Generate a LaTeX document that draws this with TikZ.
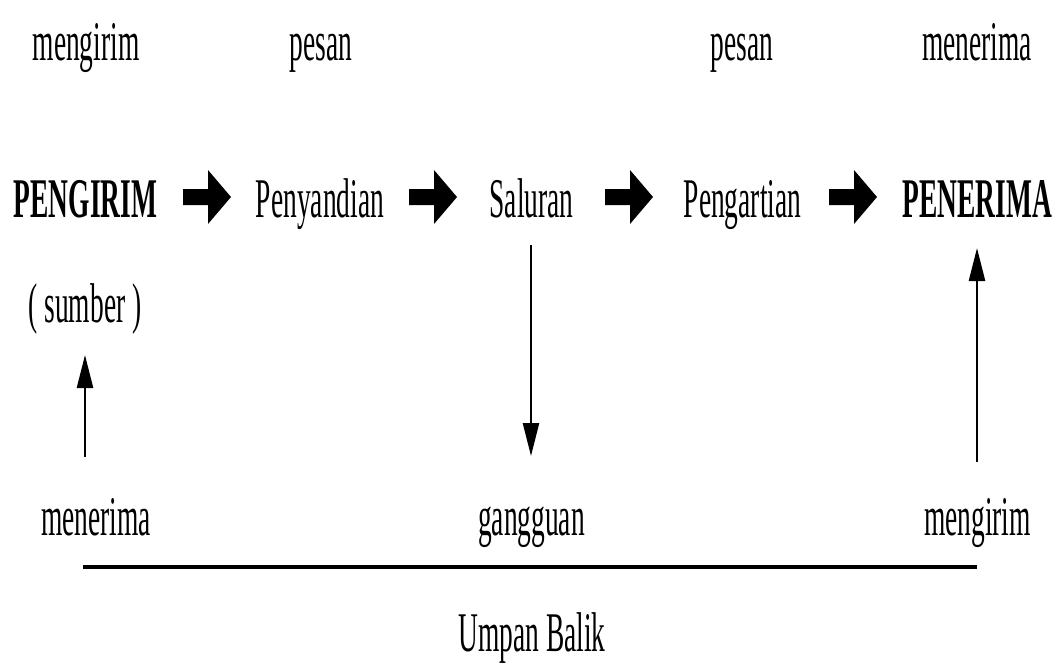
\documentclass[tikz,border=0pt]{standalone}
\usepackage{fontspec}
\setmainfont{Liberation Serif}[FakeStretch=0.49]
\usetikzlibrary{arrows.meta}

\tikzset{
  lbl/.style={anchor=base, inner sep=0pt, font=\fontsize{56}{60}\selectfont},
  key/.style={lbl, font=\fontsize{56}{60}\selectfont\bfseries},
  arr/.style={line width=2.5pt, -{Triangle[length=33pt,width=16pt]}},
  blockarrow/.pic={
    \fill (0,-8) -- (25,-8) -- (25,-27) -- (48,0) -- (25,27) -- (25,8) -- (0,8) -- cycle;
  }
}

\begin{document}
\begin{tikzpicture}[x=1pt, y=-1pt]
  \useasboundingbox (0,0) rectangle (1060,665);

  % top row
  \node[lbl] (kirimA) at (86,60)  {mengirim};
  \node[lbl] (pesanA) at (321,60) {pesan};
  \node[lbl] (pesanB) at (742,60) {pesan};
  \node[lbl] (terimaA) at (977,60) {menerima};

  % main chain
  \node[key] (pengirim)   at (85.5,217) {PENGIRIM};
  \node[lbl] (penyandian) at (320,217)  {Penyandian};
  \node[lbl] (saluran)    at (531.5,217){Saluran};
  \node[lbl] (pengartian) at (742.5,217){Pengartian};
  \node[key] (penerima)   at (977.5,217){PENERIMA};

  \pic at (183,197) {blockarrow};
  \pic at (409,197) {blockarrow};
  \pic at (605,197) {blockarrow};
  \pic at (829,197) {blockarrow};

  \node[lbl] (sumber) at (85,322) {( sumber )};

  % bottom row
  \node[lbl] (terimaB)  at (96,535)    {menerima};
  \node[lbl] (gangguan) at (531.5,535) {gangguan};
  \node[lbl] (kirimB)   at (977.5,535) {mengirim};
  \node[lbl] (umpan)    at (532,651)   {Umpan Balik};

  % feedback line
  \coordinate (fbL) at (83,567);
  \coordinate (fbR) at (977,567);
  \draw[line width=4.5pt] (fbL) -- (fbR);

  % vertical connectors
  \coordinate (upLtail) at (85,457);
  \coordinate (upLhead) at (85,355);
  \draw[arr] (upLtail) -- (upLhead);

  \coordinate (dnMtail) at (531,245);
  \coordinate (dnMhead) at (531,456);
  \draw[arr] (dnMtail) -- (dnMhead);

  \coordinate (upRtail) at (977,462);
  \coordinate (upRhead) at (977,248);
  \draw[arr] (upRtail) -- (upRhead);
\end{tikzpicture}
\end{document}
